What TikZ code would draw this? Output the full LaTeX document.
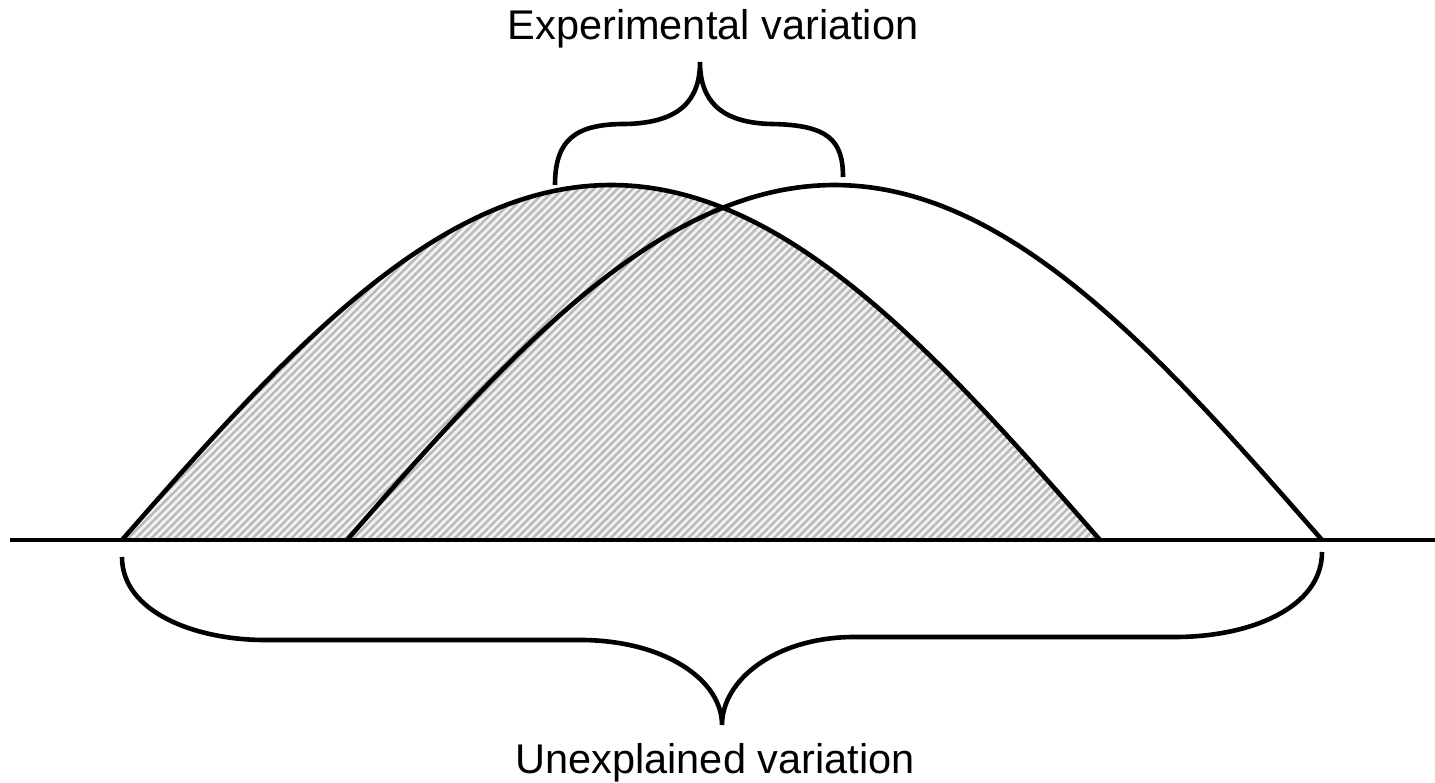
\documentclass[tikz,border=0pt]{standalone}
\usepackage{fontspec}
\setmainfont{Liberation Sans}
\usetikzlibrary{patterns.meta}
\begin{document}
\begin{tikzpicture}[x=1pt,y=-1pt,
  stroke/.style={line width=4.6pt},
  txt/.style={font=\fontsize{41.5}{50}\selectfont, inner sep=0pt, anchor=base},
  hatch/.style={pattern={Lines[distance=5.5pt, angle=45, line width=2.5pt]}, pattern color=gray!55}]
\useasboundingbox (0,0) rectangle (1435,783);
% shaded left hump
\fill[gray!10] plot[domain=0:180, samples=120] ({122+5.43333*\x},{540-355*sin(\x)}) -- cycle;
\fill[hatch] plot[domain=0:180, samples=120] ({122+5.43333*\x},{540-355*sin(\x)}) -- cycle;
% baseline
\coordinate (bl) at (10,540);
\coordinate (br) at (1435,540);
\draw[stroke] (bl) -- (br);
% humps
\draw[stroke] plot[domain=0:180, samples=120] ({122+5.43333*\x},{540-355*sin(\x)});
\draw[stroke] plot[domain=0:180, samples=120] ({347+5.41667*\x},{540-355*sin(\x)});
% top brace
\coordinate (tl) at (555,185);
\coordinate (tt) at (700,62);
\coordinate (tr) at (843,177);
\draw[stroke] (tl) .. controls (555,140) and (575,124) .. (625,124)
  .. controls (680,123) and (700,100) .. (tt)
  .. controls (700,100) and (720,123) .. (772,124)
  .. controls (828,125) and (843,140) .. (tr);
% bottom brace
\coordinate (ul) at (122,557);
\coordinate (ut) at (722,725);
\coordinate (ur) at (1322,552);
\draw[stroke] (ul) .. controls (122,612) and (195,640) .. (265,640)
  -- (583,640) .. controls (665,641) and (722,680) .. (ut)
  .. controls (722,680) and (775,638) .. (852,637)
  -- (1175,637) .. controls (1250,637) and (1322,608) .. (ur);
% labels
\node[txt] (exp) at (713,40) {Experimental variation};
\node[txt] (unexp) at (715,773) {Unexplained variation};
\end{tikzpicture}
\end{document}
